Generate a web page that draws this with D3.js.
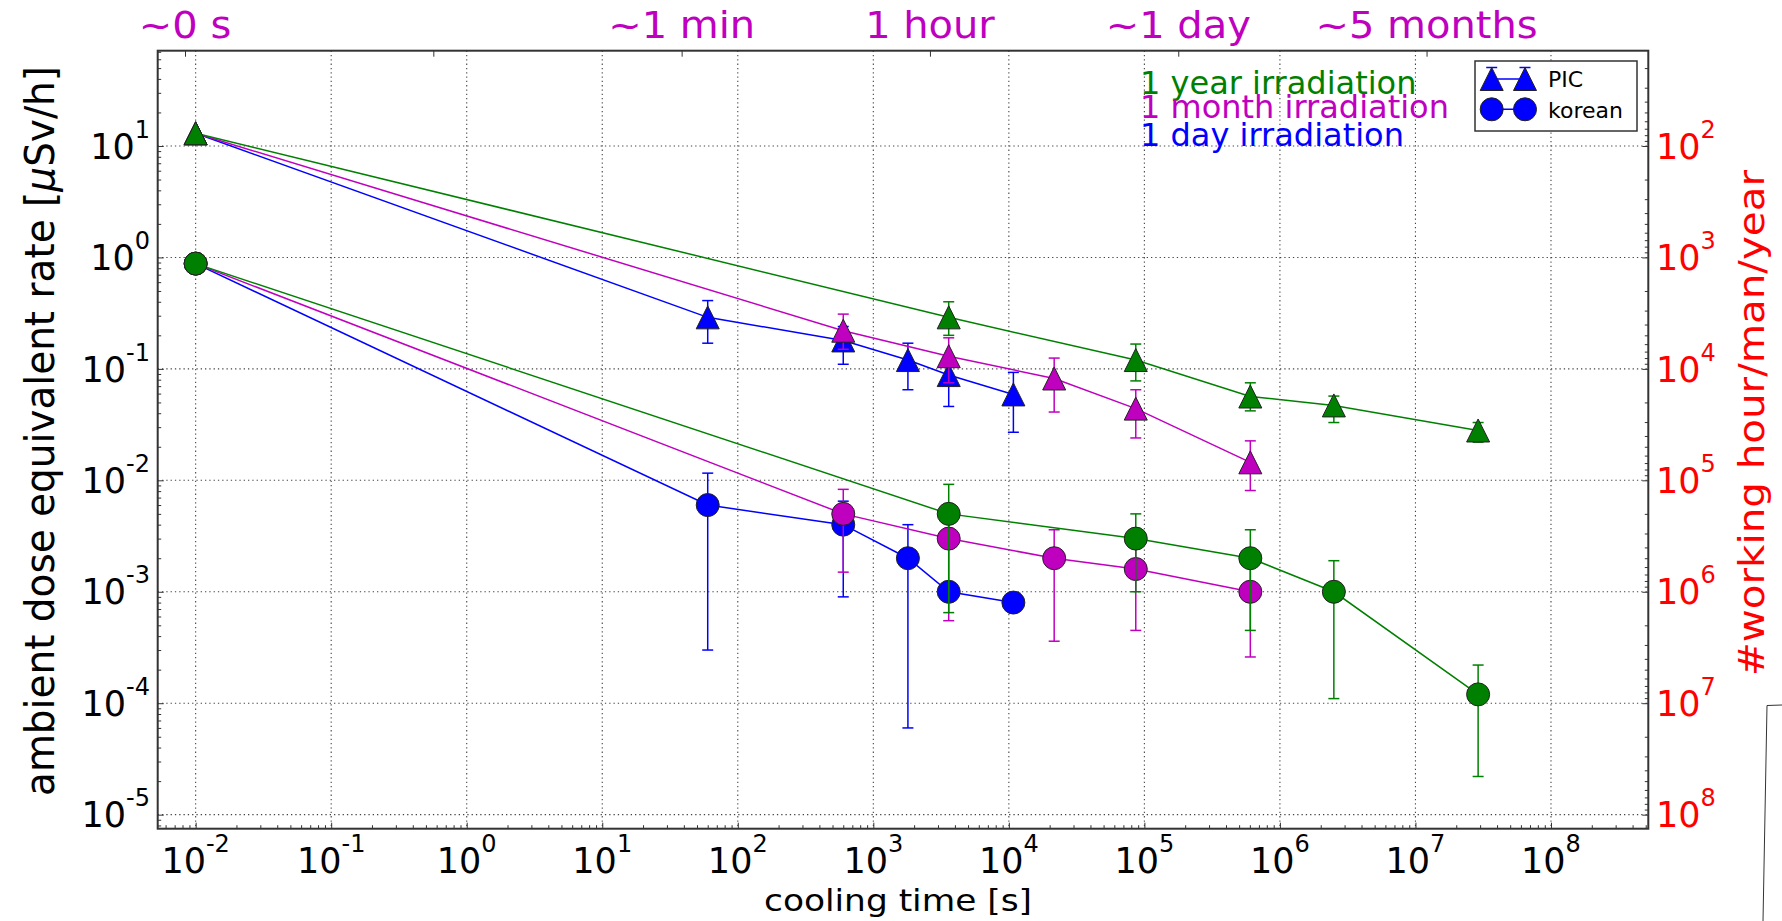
<!DOCTYPE html>
<html><head><meta charset="utf-8">
<script src="https://cdn.jsdelivr.net/npm/d3@7"></script>
<style>body{margin:0;background:#fff} text{font-family:"DejaVu Sans",sans-serif}</style>
</head><body><svg id="c" width="1782" height="921"></svg>
<script>
// ---------------- data ----------------
const tDay   = [0.01, 60, 600, 1800, 3600, 10800];
const tMonth = [0.01, 600, 3600, 21600, 86400, 604800];
const tYear  = [0.01, 3600, 86400, 604800, 2.5e6, 2.9e7];

const picDay     = [13, 0.29, 0.18, 0.12, 0.088, 0.059];
const picDayLo   = [null, 0.17, 0.11, 0.065, 0.046, 0.027];
const picDayHi   = [null, 0.41, 0.24, 0.17, 0.13, 0.093];
const picMonth   = [13, 0.22, 0.13, 0.082, 0.044, 0.0145];
const picMonthLo = [null, 0.15, 0.075, 0.041, 0.024, 0.0081];
const picMonthHi = [null, 0.31, 0.19, 0.125, 0.065, 0.0226];
const picYear    = [13, 0.29, 0.12, 0.0565, 0.047, 0.028];
const picYearLo  = [null, 0.2, 0.078, 0.042, 0.033, 0.022];
const picYearHi  = [null, 0.40, 0.167, 0.075, 0.057, 0.033];

const korDay     = [0.88, 0.006, 0.004, 0.002, 0.001, 0.0008];
const korDayLo   = [null, 0.0003, 0.0009, 0.00006, null, null];
const korDayHi   = [null, 0.0116, 0.0065, 0.004, null, null];
const korMonth   = [0.88, 0.005, 0.003, 0.002, 0.0016, 0.001];
const korMonthLo = [null, 0.0015, 0.00055, 0.00036, 0.00045, 0.00026];
const korMonthHi = [null, 0.0083, 0.0045, 0.0036, 0.0027, 0.0018];
const korYear    = [0.88, 0.005, 0.003, 0.002, 0.001, 0.00012];
const korYearLo  = [null, 0.00065, 0.001, 0.00045, 0.00011, 0.000022];
const korYearHi  = [null, 0.0092, 0.005, 0.0036, 0.0019, 0.00022];

const xMajorExp = [-2,-1,0,1,2,3,4,5,6,7,8];
const yMajorExp = [-5,-4,-3,-2,-1,0,1];
const rMajorExp = [2,3,4,5,6,7,8];
const topTicks  = [0,1,2,3,4,5];
const topLabels = ["~0 s","","~1 min","1 hour","~1 day","~5 months"];
const irrLabels = ["1 year irradiation","1 month irradiation","1 day irradiation"];
const legendLabels = ["PIC","korean"];

// ---------------- setup ----------------
const C = {g:"#008000", m:"#bf00bf", b:"#0000ff", r:"#ff0000"};
const M = {l:157.7, r:1648.3, t:50.7, b:828.7};
const svg = d3.select("#c");
svg.append("rect").attr("width",1782).attr("height",921).attr("fill","#fff");

const x = d3.scaleLog().domain([Math.pow(10,-2.28), Math.pow(10,8.718)]).range([M.l,M.r]);
const y = d3.scaleLog().domain([Math.pow(10,-5.126), Math.pow(10,1.855)]).range([M.b,M.t]);
const yR = d3.scaleLog().domain([1000/y.domain()[0], 1000/y.domain()[1]]).range([M.b,M.t]);
const xTop = d3.scaleLinear().domain([-0.11,5.893]).range([M.l,M.r]);

function minorVals(scale){
  const d = scale.domain(); const lo=Math.min(d[0],d[1]), hi=Math.max(d[0],d[1]);
  const out=[];
  for(let e=Math.floor(Math.log10(lo)); e<=Math.ceil(Math.log10(hi)); e++)
    for(let k=2;k<=9;k++){const v=k*Math.pow(10,e); if(v>=lo&&v<=hi) out.push(v);}
  return out;
}

// grid
const grid = svg.append("g").attr("stroke","#444").attr("stroke-width",1.1).attr("stroke-dasharray","1.3,3");
grid.selectAll(".gx").data(xMajorExp).join("line")
  .attr("x1",d=>x(Math.pow(10,d))).attr("x2",d=>x(Math.pow(10,d))).attr("y1",M.t).attr("y2",M.b);
grid.selectAll(".gy").data(yMajorExp).join("line")
  .attr("y1",d=>y(Math.pow(10,d))).attr("y2",d=>y(Math.pow(10,d))).attr("x1",M.l).attr("x2",M.r);

// axes ticks (inward)
function styleAxis(g){ g.select(".domain").remove(); g.selectAll("line").attr("stroke","#333").attr("stroke-width",1); }
const tv = e=>e.map(v=>Math.pow(10,v));
svg.append("g").attr("transform",`translate(0,${M.b})`).call(d3.axisBottom(x).tickValues(tv(xMajorExp)).tickSize(-6).tickFormat("")).call(styleAxis);
svg.append("g").attr("transform",`translate(0,${M.b})`).call(d3.axisBottom(x).tickValues(minorVals(x)).tickSize(-3.5).tickFormat("")).call(styleAxis);
svg.append("g").attr("transform",`translate(${M.l},0)`).call(d3.axisLeft(y).tickValues(tv(yMajorExp)).tickSize(-6).tickFormat("")).call(styleAxis);
svg.append("g").attr("transform",`translate(${M.l},0)`).call(d3.axisLeft(y).tickValues(minorVals(y)).tickSize(-3.5).tickFormat("")).call(styleAxis);
svg.append("g").attr("transform",`translate(${M.r},0)`).call(d3.axisRight(yR).tickValues(tv(rMajorExp)).tickSize(-6).tickFormat("")).call(styleAxis);
svg.append("g").attr("transform",`translate(${M.r},0)`).call(d3.axisRight(yR).tickValues(minorVals(yR)).tickSize(-3.5).tickFormat("")).call(styleAxis);
svg.append("g").attr("transform",`translate(0,${M.t})`).call(d3.axisTop(xTop).tickValues(topTicks).tickSize(-6).tickFormat("")).call(styleAxis);

// frame
svg.append("rect").attr("x",M.l).attr("y",M.t).attr("width",M.r-M.l).attr("height",M.b-M.t)
  .attr("fill","none").attr("stroke","#333").attr("stroke-width",2);

// tick labels
function sup(sel, exp){
  sel.append("tspan").text("10");
  sel.append("tspan").attr("font-size",24).attr("dy",-21).text(String(exp));
}
svg.append("g").selectAll("text").data(xMajorExp).join("text")
  .attr("x",d=>x(Math.pow(10,d))).attr("y",872.7).attr("font-size",35).attr("text-anchor","middle")
  .each(function(d){ sup(d3.select(this), d); });
svg.append("g").selectAll("text").data(yMajorExp).join("text")
  .attr("x",150).attr("y",d=>y(Math.pow(10,d))+12.7).attr("font-size",35).attr("text-anchor","end")
  .each(function(d){ sup(d3.select(this), d); });
svg.append("g").selectAll("text").data(rMajorExp).join("text")
  .attr("x",1656).attr("y",d=>yR(Math.pow(10,d))+12.7).attr("font-size",35).attr("fill",C.r)
  .each(function(d){ sup(d3.select(this), d); });

// top labels
svg.append("g").selectAll("text").data(topTicks).join("text")
  .attr("transform",d=>`translate(${xTop(d)},38) scale(1.08,1)`)
  .attr("font-size",37).attr("text-anchor","middle").attr("fill",C.m)
  .text((d,i)=>topLabels[i]);

// axis titles
svg.append("text").attr("transform","translate(54,431) rotate(-90)").attr("text-anchor","middle")
  .attr("font-size",40).attr("textLength",730).attr("lengthAdjust","spacingAndGlyphs")
  .call(t=>{t.append("tspan").text("ambient dose equivalent rate [");
            t.append("tspan").attr("font-style","italic").text("\u03bc");
            t.append("tspan").text("Sv/h]");});
svg.append("text").attr("x",898).attr("y",911).attr("text-anchor","middle")
  .attr("font-size",30).attr("textLength",268).attr("lengthAdjust","spacingAndGlyphs").text("cooling time [s]");
svg.append("text").attr("transform","translate(1764,423) rotate(-90)").attr("text-anchor","middle")
  .attr("font-size",36).attr("fill",C.r).attr("textLength",506).attr("lengthAdjust","spacingAndGlyphs")
  .text("#working hour/man/year");

// data
const series = [
  {t:tDay,   v:picDay,   lo:picDayLo,   hi:picDayHi,   c:C.b, m:"tri"},
  {t:tDay,   v:korDay,   lo:korDayLo,   hi:korDayHi,   c:C.b, m:"cir"},
  {t:tMonth, v:picMonth, lo:picMonthLo, hi:picMonthHi, c:C.m, m:"tri"},
  {t:tMonth, v:korMonth, lo:korMonthLo, hi:korMonthHi, c:C.m, m:"cir"},
  {t:tYear,  v:picYear,  lo:picYearLo,  hi:picYearHi,  c:C.g, m:"tri"},
  {t:tYear,  v:korYear,  lo:korYearLo,  hi:korYearHi,  c:C.g, m:"cir"}
];
const S = 11.5, CAP = 5.5;
const triPath = `M0,${-S}L${S},${S}L${-S},${S}Z`;
const line = d3.line().x(d=>x(d.t)).y(d=>y(d.v));
const plot = svg.append("g");
series.forEach(s=>{
  const pts = s.t.map((t,i)=>({t, v:s.v[i], lo:s.lo[i], hi:s.hi[i]}));
  const g = plot.append("g");
  const eb = g.append("g").attr("stroke",s.c).attr("stroke-width",1.5);
  pts.filter(p=>p.lo!=null).forEach(p=>{
    const px=x(p.t);
    eb.append("line").attr("x1",px).attr("x2",px).attr("y1",y(p.lo)).attr("y2",y(p.hi));
    eb.append("line").attr("x1",px-CAP).attr("x2",px+CAP).attr("y1",y(p.lo)).attr("y2",y(p.lo));
    eb.append("line").attr("x1",px-CAP).attr("x2",px+CAP).attr("y1",y(p.hi)).attr("y2",y(p.hi));
  });
  g.append("path").datum(pts).attr("d",line).attr("fill","none").attr("stroke",s.c).attr("stroke-width",1.5);
  const mk = g.selectAll(".mk").data(pts).join(s.m==="tri"?"path":"circle")
    .attr("fill",s.c).attr("stroke","#222").attr("stroke-width",1);
  if(s.m==="tri") mk.attr("d",triPath).attr("transform",p=>`translate(${x(p.t)},${y(p.v)})`);
  else mk.attr("cx",p=>x(p.t)).attr("cy",p=>y(p.v)).attr("r",S);
});

// irradiation labels
svg.append("g").selectAll("text").data(irrLabels).join("text")
  .attr("x",1140).attr("y",(d,i)=>[94.3,118.3,146][i]).attr("font-size",32)
  .attr("fill",(d,i)=>[C.g,C.m,C.b][i]).text(d=>d);

// legend
const lg = svg.append("g");
lg.append("rect").attr("x",1475).attr("y",61).attr("width",162).attr("height",70)
  .attr("fill","#fff").attr("stroke","#333").attr("stroke-width",1.5);
const lgRows = [{y:79, m:"tri"},{y:109.3, m:"cir"}];
lgRows.forEach((r,i)=>{
  lg.append("line").attr("x1",1491.7).attr("x2",1525).attr("y1",r.y).attr("y2",r.y).attr("stroke",C.b).attr("stroke-width",1.5);
  [1491.7,1525].forEach(px=>{
    if(r.m==="tri"){
      lg.append("line").attr("x1",px-CAP).attr("x2",px+CAP).attr("y1",r.y-11.5).attr("y2",r.y-11.5).attr("stroke",C.b).attr("stroke-width",1.5);
      lg.append("path").attr("d",triPath).attr("transform",`translate(${px},${r.y})`).attr("fill",C.b).attr("stroke","#222");
    } else {
      lg.append("circle").attr("cx",px).attr("cy",r.y).attr("r",S).attr("fill",C.b).attr("stroke","#222");
    }
  });
  lg.append("text").attr("x",1548).attr("y",r.y+8.3).attr("font-size",22).text(legendLabels[i]);
});

// stray frame fragment at bottom right
svg.append("path").attr("d","M1782,705 L1767,705.5 L1763,921").attr("fill","none").attr("stroke","#333").attr("stroke-width",1);
</script></body></html>
